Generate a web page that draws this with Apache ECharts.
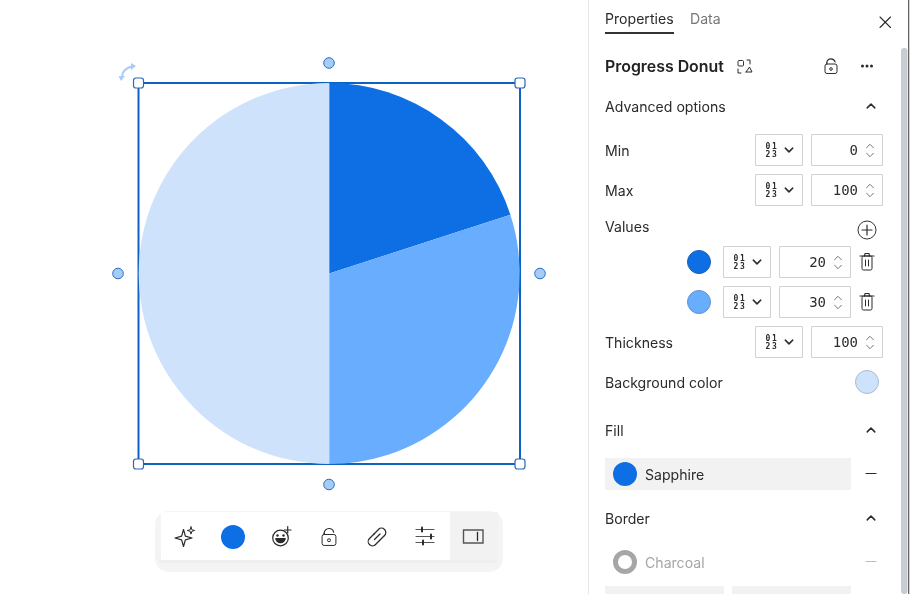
<!DOCTYPE html>
<html lang="en">
<head>
<meta charset="utf-8">
<title>Progress Donut</title>
<script src="https://cdn.jsdelivr.net/npm/echarts@6/dist/echarts.min.js"></script>
<style>
  html, body { margin: 0; padding: 0; background: #fff; }
  #main { width: 910px; height: 594px; }
</style>
</head>
<body>
<div id="main"></div>
<script>
// chart data
var sliceNames = ['Value 1', 'Value 2', 'Background'];
var sliceValues = [20, 30, 50];
var sliceColors = ['#0d6fe3', '#69adff', '#cfe2fc'];

// panel texts
var tabLabels = ['Properties', 'Data'];
var panelTitle = 'Progress Donut';
var sectionLabels = ['Advanced options', 'Min', 'Max', 'Values', 'Thickness', 'Background color', 'Fill', 'Border'];
var fillName = 'Sapphire';
var borderName = 'Charcoal';
var minText = '0', maxText = '100', thicknessText = '100';
var valueTexts = ['20', '30'];

var UI_FONT = 'Inter, "Noto Sans", sans-serif';
var MONO_FONT = '"DejaVu Sans Mono", "Liberation Mono", monospace';
var INK = '#2b2b2b';
var DEG = Math.PI / 180;
var els = [];

function label(text, x, y, o) {
  o = o || {};
  els.push({
    type: 'text', x: x, y: y, silent: true,
    style: {
      text: text, fill: o.fill || INK, font: (o.weight || 400) + ' ' + (o.size || 14.1) + 'px ' + (o.font || UI_FONT),
      textAlign: o.align || 'left', textVerticalAlign: 'middle'
    }
  });
}
function line(points, o) {
  o = o || {};
  els.push({
    type: 'polyline', silent: true, shape: { points: points },
    style: { fill: null, stroke: o.stroke || INK, lineWidth: o.width || 1.2, lineCap: 'round', lineJoin: 'round' }
  });
}
function poly(points, fill) {
  els.push({ type: 'polygon', silent: true, shape: { points: points }, style: { fill: fill } });
}
function box(x, y, w, h, o) {
  o = o || {};
  els.push({
    type: 'rect', silent: true, shape: { x: x, y: y, width: w, height: h, r: o.r || 0 },
    style: { fill: o.fill === undefined ? '#fff' : o.fill, stroke: o.stroke || null, lineWidth: o.width || 1 }
  });
}
function dot(cx, cy, r, fill, stroke, width) {
  els.push({
    type: 'circle', silent: true, shape: { cx: cx, cy: cy, r: r },
    style: { fill: fill, stroke: stroke || null, lineWidth: width || 1 }
  });
}
function arc(cx, cy, r, a0, a1, o) {
  o = o || {};
  els.push({
    type: 'arc', silent: true, shape: { cx: cx, cy: cy, r: r, startAngle: a0, endAngle: a1, clockwise: true },
    style: { fill: null, stroke: o.stroke || INK, lineWidth: o.width || 1.2, lineCap: 'round' }
  });
}
function chevUp(x, y, size, o) { line([[x - size, y + size / 2], [x, y - size / 2], [x + size, y + size / 2]], o); }
function chevDown(x, y, size, o) { line([[x - size, y - size / 2], [x, y + size / 2], [x + size, y - size / 2]], o); }
function star(x, y, s, width) {
  var k = s * 0.22;
  line([[x, y - s], [x + k, y - k], [x + s, y], [x + k, y + k], [x, y + s], [x - k, y + k], [x - s, y], [x - k, y - k], [x, y - s]], { width: width });
}

// the small 01/23 format picker and the number stepper next to it
function formatRow(selX, inputX, y, text) {
  box(selX + 0.5, y + 0.5, 47, 31, { stroke: '#d3d3d3' });
  box(inputX + 0.5, y + 0.5, 71, 31, { stroke: '#d3d3d3' });
  var digit = { size: 8, weight: 700, font: MONO_FONT, align: 'center' };
  label('0', selX + 13, y + 12.5, digit);
  label('1', selX + 19.5, y + 12.5, digit);
  label('2', selX + 13, y + 21, digit);
  label('3', selX + 19.5, y + 21, digit);
  chevDown(selX + 34, y + 16, 3.7, { width: 1.5 });
  label(text, inputX + 47, y + 17.3, { size: 14, font: MONO_FONT, align: 'right' });
  chevUp(inputX + 59, y + 12, 3.4, { stroke: '#666', width: 0.9 });
  chevDown(inputX + 59, y + 21, 3.4, { stroke: '#666', width: 0.9 });
}
function trash(x, y) {
  box(x - 5, y - 6, 10, 14, { fill: null, stroke: INK, r: 1.5 });
  line([[x - 7, y - 6], [x + 7, y - 6]]);
  line([[x - 2.5, y - 6], [x - 2, y - 8.5], [x + 2, y - 8.5], [x + 2.5, y - 6]]);
  line([[x - 1.5, y - 2], [x - 1.5, y + 4]], { width: 1 });
  line([[x + 1.5, y - 2], [x + 1.5, y + 4]], { width: 1 });
}
function padlock(x, y, s) {
  // y is the top of the body, the shackle stays open on the right
  s = s || 1;
  box(x - 6 * s, y, 12 * s, 9.5 * s, { fill: '#fff', stroke: INK, r: 2 });
  arc(x, y - 1 * s, 4.2 * s, 180 * DEG, 345 * DEG);
  line([[x - 4.2 * s, y - 1 * s], [x - 4.2 * s, y]]);
  dot(x, y + 5 * s, 1.3 * s, null, INK, 1);
}

// selection frame
function buildFrame() {
  var B = '#0d62c4';
  box(138.5, 83, 381.5, 381, { fill: null, stroke: B, width: 2 });
  [[138.5, 83], [520, 83], [138.5, 464], [520, 464]].forEach(function (p) {
    box(p[0] - 5, p[1] - 5, 10, 10, { fill: '#fff', stroke: '#2a69b5', width: 1.2, r: 2.5 });
  });
  [[329, 63], [118, 273.5], [540, 273.5], [329, 484.5]].forEach(function (p) {
    dot(p[0], p[1], 5.3, '#a5cbf7', '#2a6fc0', 1);
  });
  // rotate arrow
  els.push({
    type: 'bezierCurve', silent: true,
    shape: { x1: 122, y1: 78, cpx1: 122, cpy1: 71, cpx2: 127, cpy2: 67, x2: 133, y2: 66.5 },
    style: { fill: null, stroke: '#a9cbf5', lineWidth: 2 }
  });
  poly([[118.5, 76], [125, 76], [121, 81]], '#a9cbf5');
  poly([[131, 63], [136, 66], [131, 70]], '#a9cbf5');
}

function buildToolbar() {
  box(155, 511, 348, 61, { fill: '#f4f4f4', r: 14 });
  box(159, 558, 338, 5, { fill: '#eeeeee', r: 2 });
  box(161, 512, 289, 48, { fill: '#fff' });
  box(450, 512, 48, 48, { fill: '#f2f2f2' });
  var y = 537;
  // sparkles
  star(183.5, 538, 8.5, 1.2);
  star(191, 530.5, 3.6, 1);
  // colour
  dot(233, y, 12, '#0d6fe3');
  // emoji
  dot(280.5, 538, 7.8, null, INK, 1.2);
  dot(277.5, 535.5, 1.2, INK);
  dot(283.5, 535.5, 1.2, INK);
  els.push({ type: 'sector', silent: true, shape: { cx: 280.5, cy: 538, r: 5.3, r0: 0, startAngle: 0, endAngle: Math.PI }, style: { fill: INK } });
  line([[284.5, 530], [291, 530]]);
  line([[287.7, 526.5], [287.7, 533]]);
  padlock(329, 534.5, 1.15);
  // link
  arc(381.5, 532.5, 4.3, -135 * DEG, 45 * DEG, { width: 1.2 });
  arc(372.5, 541.5, 4.3, 45 * DEG, 225 * DEG, { width: 1.2 });
  line([[378.5, 529.5], [374, 534]]);
  line([[384.5, 535.5], [379.5, 540.5]]);
  line([[369.5, 538.5], [374, 534]]);
  line([[375.5, 544.5], [379.5, 540.5]]);
  line([[374.5, 539.5], [380, 534]]);
  // sliders
  line([[416, 529.5], [434, 529.5]], { stroke: '#555' });
  line([[416, 536.5], [434, 536.5]], { stroke: '#555' });
  line([[416, 542.5], [434, 542.5]], { stroke: '#555' });
  line([[422, 527.5], [422, 531.5]], { width: 2 });
  line([[431, 534.5], [431, 538.5]], { width: 2 });
  line([[423, 540.5], [423, 544.5]], { width: 2 });
  // panel toggle
  box(463.5, 530, 19.5, 13, { fill: null, stroke: '#555', width: 1.4 });
  line([[477.5, 532.5], [477.5, 540.5]], { width: 1.3 });
}

function buildPanel() {
  line([[588.5, 0], [588.5, 594]], { stroke: '#e6e6e6', width: 1 });
  box(901, 48, 6.5, 546, { fill: '#c9cdd3', r: 3 });
  box(908, 0, 1.3, 594, { fill: '#666' });
  label(tabLabels[0], 605, 19.5);
  label(tabLabels[1], 690, 19.5, { fill: '#777' });
  box(605, 32, 69, 2, { fill: '#333' });
  line([[880, 17], [890.5, 27.5]], { width: 1.1 });
  line([[890.5, 17], [880, 27.5]], { width: 1.1 });

  label(panelTitle, 605, 67.5, { size: 15.9, weight: 600, fill: '#222' });
  // swap icon
  box(738, 60.5, 5.5, 5.5, { fill: null, stroke: '#333', r: 1, width: 1 });
  line([[746, 72], [749.5, 67], [752, 72], [746, 72]], { width: 1 });
  line([[747, 60], [750, 60], [750, 64]], { width: 1 });
  line([[741, 73], [738, 73], [738, 69]], { width: 1 });
  padlock(831, 64);
  dot(862.5, 66, 1.5, INK);
  dot(867, 66, 1.5, INK);
  dot(871.5, 66, 1.5, INK);

  label(sectionLabels[0], 605, 107.7);
  chevUp(871, 106, 3.8, { width: 1.5 });

  label(sectionLabels[1], 605, 151.7);
  formatRow(755, 811, 134, minText);
  label(sectionLabels[2], 605, 191.7);
  formatRow(755, 811, 174, maxText);

  label(sectionLabels[3], 605, 227.7);
  dot(867, 230, 9, null, '#333', 1);
  line([[862, 230], [872, 230]]);
  line([[867, 225], [867, 235]]);

  formatRow(723, 779, 246, valueTexts[0]);
  dot(699, 262, 11.5, sliceColors[0], '#1c62b8', 1);
  trash(867, 262);
  formatRow(723, 779, 286, valueTexts[1]);
  dot(699, 302, 11.5, sliceColors[1], '#5f94d4', 1);
  trash(867, 302);

  label(sectionLabels[4], 605, 343.7);
  formatRow(755, 811, 326, thicknessText);
  label(sectionLabels[5], 605, 383.7);
  dot(867, 382, 11.5, sliceColors[2], '#a9bcd4', 1);

  label(sectionLabels[6], 605, 431.7);
  chevUp(871, 430, 3.8, { width: 1.5 });
  box(605, 458, 246, 32, { fill: '#f2f2f2' });
  dot(625, 474, 12, sliceColors[0]);
  label(fillName, 645, 475.7);
  line([[866, 473.5], [876, 473.5]]);

  label(sectionLabels[7], 605, 519.7);
  chevUp(871, 518, 3.8, { width: 1.5 });
  dot(625, 562, 9.5, '#fff', '#a6a6a6', 5);
  label(borderName, 645, 563.7, { fill: '#a6a6a6' });
  line([[866, 561.5], [876, 561.5]], { stroke: '#bdbdbd' });
  box(605, 586, 119, 8, { fill: '#f2f2f2' });
  box(732, 586, 119, 8, { fill: '#f2f2f2' });
}

buildFrame();
buildToolbar();
buildPanel();

var chart = echarts.init(document.getElementById('main'), null, { renderer: 'canvas' });
chart.setOption({
  animation: false,
  backgroundColor: '#fff',
  tooltip: { show: false },
  series: [{
    type: 'pie',
    center: [329.2, 273.5],
    radius: [0, 190.5],
    startAngle: 90,
    clockwise: true,
    silent: true,
    label: { show: false },
    labelLine: { show: false },
    itemStyle: { borderWidth: 0 },
    data: sliceValues.map(function (v, i) {
      return { name: sliceNames[i], value: v, itemStyle: { color: sliceColors[i] } };
    })
  }],
  graphic: { elements: els }
});
</script>
</body>
</html>
